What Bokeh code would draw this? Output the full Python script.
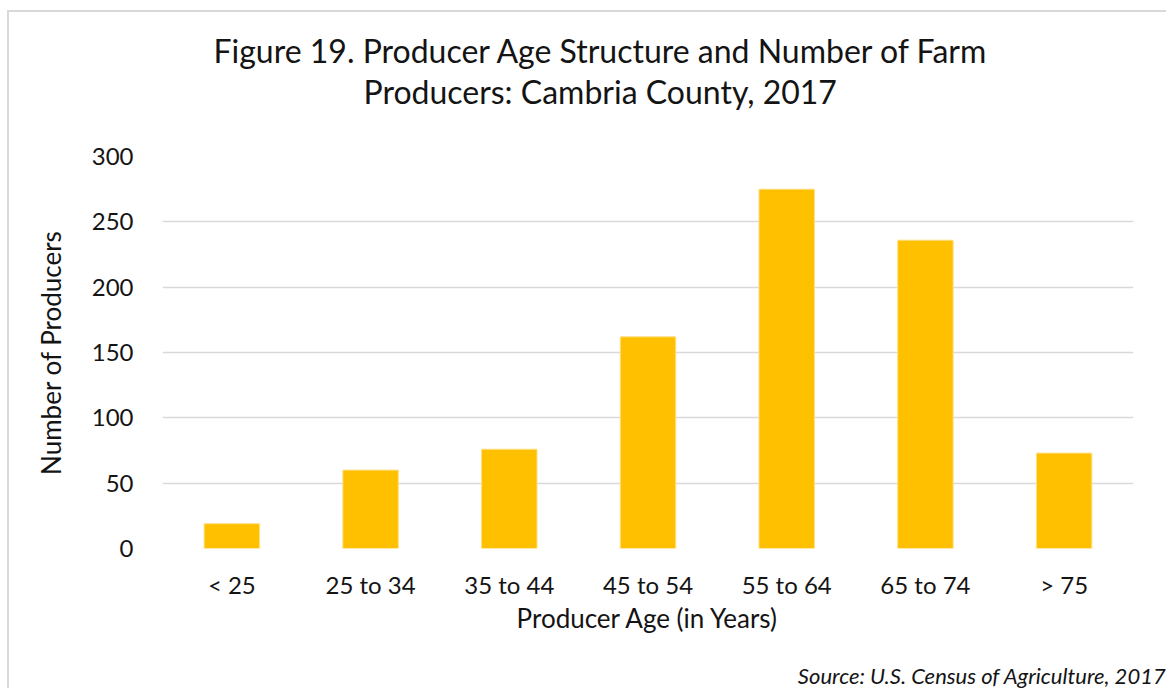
from bokeh.plotting import figure
from bokeh.models import Range1d, Title, FixedTicker, ColumnDataSource
from bokeh.embed import file_html
from bokeh.resources import INLINE

categories = ["< 25", "25 to 34", "35 to 44", "45 to 54", "55 to 64", "65 to 74", "> 75"]
producers = [19, 60, 76, 162, 275, 236, 73]
y_ticks = [0, 50, 100, 150, 200, 250, 300]

title_line1 = "Figure 19. Producer Age Structure and Number of Farm"
title_line2 = "Producers: Cambria County, 2017"
source_text = "Source: U.S. Census of Agriculture, 2017"

FONT = "Lato"
TXT = "#141414"

p = figure(x_range=categories, y_range=Range1d(0, 300),
           width=1159, height=678, output_backend="svg", toolbar_location=None,
           min_border_left=153, min_border_right=35, min_border_top=144, min_border_bottom=142)
p.styles = {"border-left": "2px solid #d9d9d9", "border-top": "2px solid #d9d9d9",
            "margin-left": "7px", "margin-top": "10px"}
p.outline_line_color = None

src = ColumnDataSource(dict(cat=categories, val=producers))
p.vbar(x="cat", top="val", width=0.4, source=src, fill_color="#FFC000",
       line_color="#FFE08A", line_width=1)

p.xgrid.grid_line_color = None
p.ygrid.grid_line_color = "#d9d9d9"
p.ygrid.grid_line_width = 1.5
p.yaxis.ticker = FixedTicker(ticks=y_ticks)

for ax in (p.xaxis[0], p.yaxis[0]):
    ax.axis_line_color = None
    ax.major_tick_line_color = None
    ax.minor_tick_line_color = None
    ax.major_tick_out = 0
    ax.major_tick_in = 0
    ax.major_label_text_font = FONT
    ax.major_label_text_font_size = "24px"
    ax.major_label_text_color = TXT
    ax.axis_label_text_font = FONT
    ax.axis_label_text_font_size = "26px"
    ax.axis_label_text_font_style = "normal"
    ax.axis_label_text_color = TXT

p.yaxis.major_label_standoff = 29
p.yaxis.axis_label = "Number of Producers"
p.yaxis.axis_label_standoff = 22
p.xaxis.major_label_standoff = 21
p.xaxis.axis_label = "Producer Age (in Years)"
p.xaxis.axis_label_standoff = 0

def spacer(gap):
    return Title(text=" ", text_font_size="1px", standoff=gap, text_color="white")

# above: stacked outward from the frame
p.add_layout(spacer(43), "above")
p.add_layout(Title(text=title_line2, align="left", offset=201, standoff=0,
                   text_font=FONT, text_font_size="32px", text_font_style="normal",
                   text_color=TXT), "above")
p.add_layout(Title(text=title_line1, align="left", offset=51, standoff=0,
                   text_font=FONT, text_font_size="32px", text_font_style="normal",
                   text_color=TXT), "above")

# below: after the x axis
p.add_layout(spacer(20), "below")
p.add_layout(Title(text=source_text, align="right", offset=-33, standoff=0,
                   text_font=FONT, text_font_size="22px", text_font_style="italic",
                   text_color=TXT), "below")

open("out.html", "w").write(file_html(p, INLINE))
